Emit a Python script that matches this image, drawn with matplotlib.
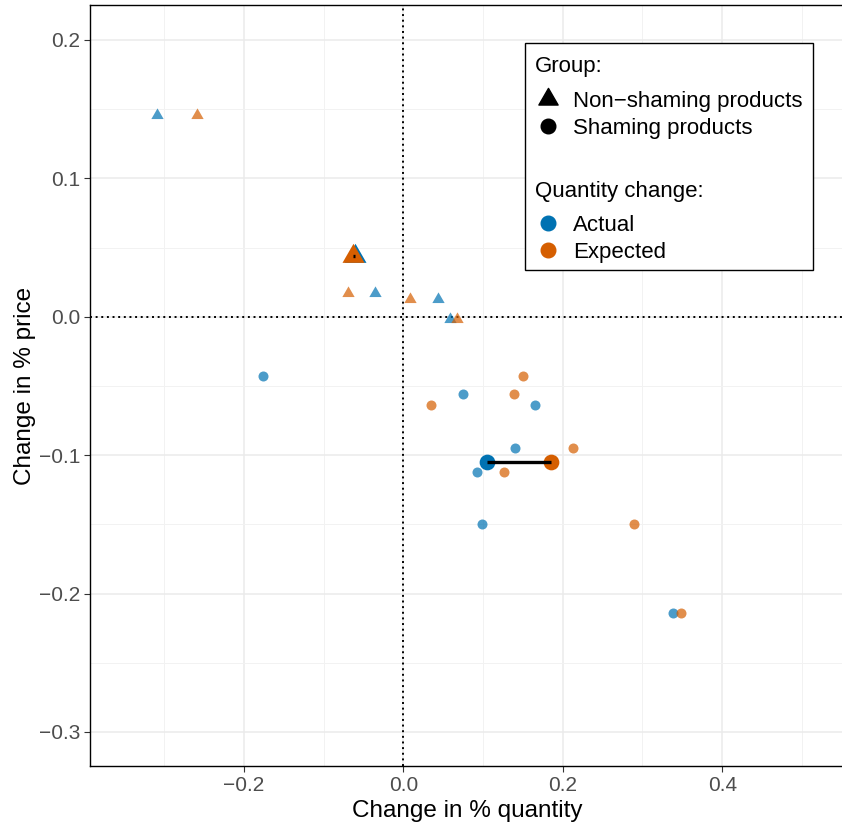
import numpy as np
import matplotlib
matplotlib.use("Agg")
import matplotlib.pyplot as plt
from matplotlib.lines import Line2D
from matplotlib.patches import Rectangle
from matplotlib.path import Path
from matplotlib.ticker import MultipleLocator

plt.rcParams['font.family'] = ['Liberation Sans', 'DejaVu Sans']

# shaming products: one y per product, actual vs expected quantity change
shame_y = [-0.043, -0.056, -0.064, -0.095, -0.112, -0.150, -0.214]
shame_actual_x = [-0.176, 0.075, 0.165, 0.140, 0.093, 0.099, 0.338]
shame_expected_x = [0.150, 0.139, 0.035, 0.213, 0.126, 0.289, 0.348]

# non-shaming products
nonshame_y = [0.146, 0.017, 0.013, -0.002]
nonshame_actual_x = [-0.309, -0.035, 0.043, 0.059]
nonshame_expected_x = [-0.259, -0.069, 0.009, 0.067]

blue = '#0072B2'
orange = '#D55E00'

# equilateral triangle like ggplot shape 17
tri = Path([(-1, -0.577), (1, -0.577), (0, 1.155), (-1, -0.577)],
           [Path.MOVETO, Path.LINETO, Path.LINETO, Path.CLOSEPOLY])

W, H = 842, 826
fig = plt.figure(figsize=(W / 100, H / 100), dpi=100)
ax = fig.add_axes([90 / W, (H - 766) / H, (845 - 90) / W, (766 - 5) / H])

ax.set_xlim(-0.393, 0.554)
ax.set_ylim(-0.3246, 0.2252)

# grid like theme_bw
ax.xaxis.set_major_locator(MultipleLocator(0.2))
ax.xaxis.set_minor_locator(MultipleLocator(0.1))
ax.yaxis.set_major_locator(MultipleLocator(0.1))
ax.yaxis.set_minor_locator(MultipleLocator(0.05))
ax.grid(which='major', color='#EBEBEB', lw=1.1, zorder=0)
ax.grid(which='minor', color='#F2F2F2', lw=0.7, zorder=0)
ax.set_axisbelow(True)

ax.axvline(0, color='black', lw=1.4, ls=(0, (1, 1.9)), zorder=1)
ax.axhline(0, color='black', lw=1.4, ls=(0, (1, 1.9)), zorder=1)

# individual products
ax.scatter(nonshame_actual_x, nonshame_y, marker=tri, s=105, color=blue,
           alpha=0.7, lw=0, zorder=2)
ax.scatter(nonshame_expected_x, nonshame_y, marker=tri, s=105, color=orange,
           alpha=0.7, lw=0, zorder=2)
ax.scatter(shame_actual_x, shame_y, marker='o', s=52, color=blue,
           alpha=0.7, lw=0, zorder=2)
ax.scatter(shame_expected_x, shame_y, marker='o', s=52, color=orange,
           alpha=0.7, lw=0, zorder=2)

# group means
for xa, xe, ys, mk, sz in [(nonshame_actual_x, nonshame_expected_x, nonshame_y, tri, 335),
                           (shame_actual_x, shame_expected_x, shame_y, 'o', 128)]:
    ma, me, my = np.mean(xa), np.mean(xe), np.mean(ys)
    ax.scatter([ma], [my], marker=mk, s=sz, color=blue, lw=0, zorder=3)
    ax.scatter([me], [my], marker=mk, s=sz, color=orange, lw=0, zorder=3)
    ax.plot([ma, me], [my, my], color='black', lw=2.4, solid_capstyle='butt', zorder=4)

for sp in ax.spines.values():
    sp.set_color('black')
    sp.set_linewidth(1.0)

ax.tick_params(which='major', length=4, width=0.8, color='#333333',
               labelsize=15, labelcolor='#4D4D4D', pad=3)
ax.tick_params(which='minor', length=0)
ax.xaxis.set_major_formatter(plt.FuncFormatter(lambda v, p: f'{v:.1f}'.replace('-', '\u2212')))
ax.yaxis.set_major_formatter(plt.FuncFormatter(lambda v, p: f'{v:.1f}'.replace('-', '\u2212')))

ax.set_xlabel('Change in % quantity', fontsize=17.5, labelpad=4)
ax.set_ylabel('Change in % price', fontsize=17.5, labelpad=2)

# legend box
ft = fig.transFigure
def fx(px):
    return px / W
def fy(py):
    return 1 - py / H

ax.add_patch(Rectangle((fx(525), fy(270)), fx(813) - fx(525), fy(43) - fy(270),
                       transform=ft, facecolor='white', edgecolor='black',
                       lw=1.0, zorder=6, clip_on=False))
ax.text(fx(535), fy(71.7), 'Group:', transform=ft, fontsize=16, va='baseline', zorder=8)
ax.text(fx(535), fy(196.7), 'Quantity change:', transform=ft, fontsize=16,
        va='baseline', zorder=8)

grp_handles = [Line2D([], [], marker=tri, ls='none', color='black', markersize=16),
               Line2D([], [], marker='o', ls='none', color='black', markersize=10.5)]
leg1 = ax.legend(grp_handles, ['Non\u2212shaming products', 'Shaming products'],
                 loc='center left', bbox_to_anchor=(fx(534), fy(114.7)),
                 bbox_transform=ft, frameon=False, fontsize=16, borderpad=0,
                 handlelength=1.23, handletextpad=0.52, labelspacing=0.26,
                 borderaxespad=0)
leg1.set_zorder(7)
ax.add_artist(leg1)

qty_handles = [Line2D([], [], marker='o', ls='none', color=blue, markersize=10.5),
               Line2D([], [], marker='o', ls='none', color=orange, markersize=10.5)]
leg2 = ax.legend(qty_handles, ['Actual', 'Expected'],
                 loc='center left', bbox_to_anchor=(fx(534), fy(239)),
                 bbox_transform=ft, frameon=False, fontsize=16, borderpad=0,
                 handlelength=1.23, handletextpad=0.52, labelspacing=0.26,
                 borderaxespad=0)
leg2.set_zorder(7)

fig.savefig('out.png', dpi=100)
